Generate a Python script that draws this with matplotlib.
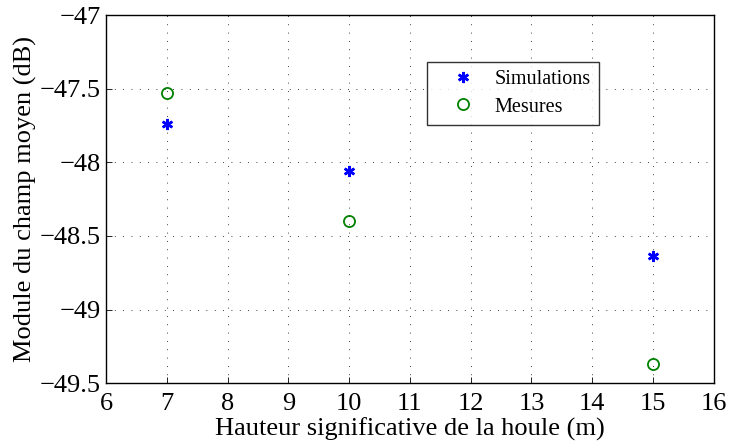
import matplotlib
matplotlib.use("Agg")
import matplotlib.pyplot as plt

plt.rcParams['font.family'] = ['Liberation Serif', 'DejaVu Serif']

hauteur = [7, 10, 15]
simulations = [-47.74, -48.06, -48.635]
mesures = [-47.53, -48.40, -49.37]

fig = plt.figure(figsize=(7.29, 4.45), dpi=100)
ax = fig.add_axes([0.1454, 0.139, 0.8336, 0.827])

ax.plot(hauteur, simulations, linestyle='none', marker=(6, 2, 0), color='#0000ff',
        markersize=8, markeredgewidth=1.8, label='Simulations')
ax.plot(hauteur, mesures, linestyle='none', marker='o', markerfacecolor='none',
        markeredgecolor='#008000', markersize=8, markeredgewidth=1.3, label='Mesures')

ax.set_xlim(6, 16)
ax.set_ylim(-49.5, -47)
ax.set_xticks(range(6, 17))
yt = [-49.5, -49, -48.5, -48, -47.5, -47]
ax.set_yticks(yt)
ax.set_yticklabels([('%g' % v).replace('-', '\u2212') for v in yt])
ax.grid(True, linestyle=(0, (1, 9)), color='black', linewidth=0.6)
ax.tick_params(direction='in', labelsize=19, length=4, width=0.6,
               top=False, right=False)
ax.tick_params(axis='x', pad=7)
ax.tick_params(axis='y', pad=4)
for s in ax.spines.values():
    s.set_linewidth(1.0)

ax.set_xlabel('Hauteur significative de la houle (m)', fontsize=19, labelpad=2)
ax.set_ylabel('Module du champ moyen (dB)', fontsize=19, labelpad=2)

leg = ax.legend(loc='upper left', bbox_to_anchor=(0.528, 0.872), fontsize=14.5,
                frameon=True, fancybox=False, edgecolor='black', borderpad=0.4,
                handlelength=2.8, handletextpad=0.15, labelspacing=0.4,
                borderaxespad=0)
leg.get_frame().set_linewidth(1.0)

fig.savefig('out.png', dpi=100)
